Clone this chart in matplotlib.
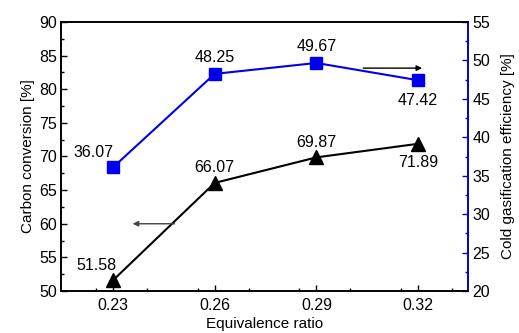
import matplotlib
matplotlib.use("Agg")
import matplotlib.pyplot as plt
from matplotlib.ticker import MultipleLocator

plt.rcParams['font.family'] = ['Liberation Sans', 'DejaVu Sans']

# data
er = [0.23, 0.26, 0.29, 0.32]
carbon = [51.58, 66.07, 69.87, 71.89]
cge = [36.07, 48.25, 49.67, 47.42]
xticks = ['0.23', '0.26', '0.29', '0.32']

fig = plt.figure(figsize=(5.19, 3.33), dpi=100)
ax = fig.add_axes([61/519, 1-291/333, 407/519, 269/333])
ax2 = ax.twinx()

ax.plot(er, carbon, 'k-', marker='^', ms=10, lw=1.5)
ax2.plot(er, cge, '-', color='#0000ee', marker='s', ms=8, lw=1.5)

ax.set_xlim(0.2147, 0.3347)
ax.set_ylim(50, 90)
ax2.set_ylim(20, 55)
ax.set_xticks(er)
ax.set_xticklabels(xticks)
ax.xaxis.set_minor_locator(MultipleLocator(0.015))
ax.yaxis.set_major_locator(MultipleLocator(5))
ax.yaxis.set_minor_locator(MultipleLocator(2.5))
ax2.yaxis.set_major_locator(MultipleLocator(5))
ax2.yaxis.set_minor_locator(MultipleLocator(2.5))

for a in (ax, ax2):
    a.tick_params(which='both', direction='in', labelsize=11.5, pad=3)
    a.tick_params(which='major', length=4, width=1)
    a.tick_params(which='minor', length=2.5, width=1)
ax.tick_params(axis='x', which='both', pad=5)
ax.tick_params(top=False, which='both')
ax2.spines['right'].set_color('#0000ee')
ax2.tick_params(axis='y', which='both', colors='#0000ee', labelcolor='black')
for s in ax.spines.values():
    s.set_linewidth(1.2)
for s in ax2.spines.values():
    s.set_linewidth(1.2)

ax.set_xlabel('Equivalence ratio', fontsize=11, labelpad=3)
ax.set_ylabel('Carbon conversion [%]', fontsize=11, labelpad=3)
ax2.set_ylabel('Cold gasification efficiency [%]', fontsize=11, labelpad=8)

# value labels
c_off = [(-12, 11), (0, 11), (0, 11), (0, -13.5)]
g_off = [(-14, 11), (0, 12), (0, 12), (0, -14.5)]
for x, y, o in zip(er, carbon, c_off):
    ax.annotate(f'{y:.2f}', (x, y), xytext=o, textcoords='offset points',
                ha='center', va='center', fontsize=11.5)
for x, y, o in zip(er, cge, g_off):
    ax2.annotate(f'{y:.2f}', (x, y), xytext=o, textcoords='offset points',
                 ha='center', va='center', fontsize=11.5)

# axis arrows
ax.annotate('', xy=(0.235, 60), xytext=(0.249, 60),
            arrowprops=dict(arrowstyle='-|>', color='#444444', lw=1, mutation_scale=8))
ax2.annotate('', xy=(0.322, 49.0), xytext=(0.303, 49.0),
             arrowprops=dict(arrowstyle='-|>', color='black', lw=1, mutation_scale=8))

fig.savefig('out.png', dpi=100)
